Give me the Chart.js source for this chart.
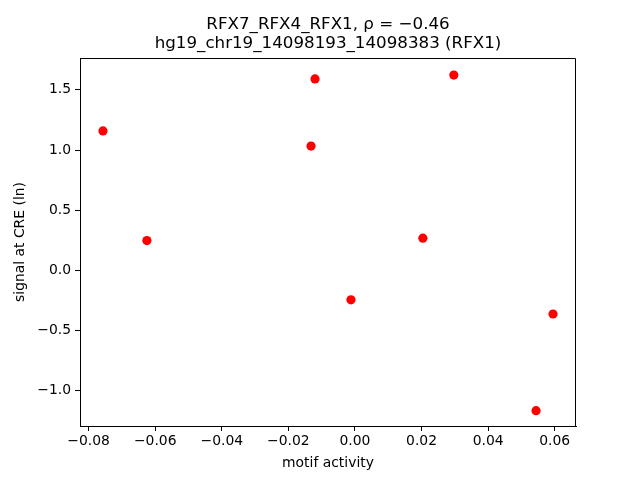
<!DOCTYPE html>
<html>
<head>
<meta charset="utf-8">
<script src="https://cdn.jsdelivr.net/npm/chart.js@4/dist/chart.umd.min.js"></script>
<style>
  html,body{margin:0;padding:0;background:#fff;}
  #wrap{width:640px;height:480px;}
</style>
</head>
<body>
<div id="wrap"><canvas id="c" width="640" height="480"></canvas></div>
<script>
/* ---------- данные ---------- */
const motifActivity = [-0.0757, -0.0625, -0.0120, -0.0132, -0.0012, 0.0204, 0.0297, 0.0595, 0.0544];
const creSignal     = [ 1.158,   0.248,   1.590,   1.033,  -0.244,   0.268,  1.622,  -0.362, -1.165];
const xTicks = [-0.08, -0.06, -0.04, -0.02, 0.00, 0.02, 0.04, 0.06];
const yTicks = [-1.0, -0.5, 0.0, 0.5, 1.0, 1.5];
const titleLines = ['RFX7_RFX4_RFX1, \u03c1 = \u22120.46', 'hg19_chr19_14098193_14098383 (RFX1)'];

const FONT = 'DejaVu Sans';
const fmt = d => v => v.toFixed(d).replace('-', '\u2212');
const pts = motifActivity.map((x,i)=>({x, y:creSignal[i]}));

/* заголовок рисуем сами — две строки по центру области графика */
const titlePlugin = {
  id:'mplTitle',
  afterDraw(chart){
    const {ctx, chartArea:a} = chart;
    ctx.save();
    ctx.fillStyle = '#000';
    ctx.textAlign = 'center';
    ctx.textBaseline = 'alphabetic';
    ctx.font = `16.7px "${FONT}"`;
    const cx = (a.left + a.right)/2;
    ctx.fillText(titleLines[0], cx, 29);
    ctx.fillText(titleLines[1], cx, 47.5);
    ctx.restore();
  }
};

new Chart(document.getElementById('c'), {
  type:'scatter',
  data:{datasets:[{
    data:pts,
    backgroundColor:'#ff0000',
    borderColor:'#ff0000',
    pointRadius:4.6,
    pointHoverRadius:4.6,
    borderWidth:0
  }]},
  options:{
    responsive:false,
    animation:false,
    events:[],
    layout:{padding:{top:58, right:64, left:0, bottom:0}},
    plugins:{legend:{display:false}, tooltip:{enabled:false}},
    scales:{
      x:{
        type:'linear', min:-0.0826, max:0.0664,
        afterBuildTicks:s=>{ s.ticks = xTicks.map(v=>({value:v})); },
        afterFit:s=>{ s.height = 54; },
        grid:{drawOnChartArea:false, drawTicks:true, tickLength:5, color:'#000', tickWidth:1},
        border:{display:true, color:'#000', width:1},
        ticks:{color:'#000', font:{family:FONT, size:13.9}, padding:2, maxRotation:0, callback:fmt(2)},
        title:{display:true, text:'motif activity', color:'#000', font:{family:FONT, size:13.9}, padding:{top:0,bottom:8}}
      },
      y:{
        type:'linear', min:-1.292, max:1.764,
        afterBuildTicks:s=>{ s.ticks = yTicks.map(v=>({value:v})); },
        afterFit:s=>{ s.width = 80; },
        grid:{drawOnChartArea:false, drawTicks:true, tickLength:5, color:'#000', tickWidth:1},
        border:{display:true, color:'#000', width:1},
        ticks:{color:'#000', font:{family:FONT, size:13.9}, padding:4, callback:fmt(1)},
        title:{display:true, text:'signal at CRE (ln)', color:'#000', font:{family:FONT, size:13.9}, padding:{top:12,bottom:0}}
      }
    }
  },
  plugins:[titlePlugin, {
    id:'frame',
    afterDatasetsDraw(chart){
      const {ctx, chartArea:a} = chart;
      const r = Math.round(a.right)-0.5, t = Math.round(a.top)+0.5;
      ctx.save();
      ctx.strokeStyle = '#000';
      ctx.lineWidth = 1;
      ctx.beginPath();
      ctx.moveTo(a.left, t); ctx.lineTo(r, t); ctx.lineTo(r, a.bottom);
      ctx.stroke();
      ctx.restore();
    }
  }]
});
</script>
</body>
</html>
